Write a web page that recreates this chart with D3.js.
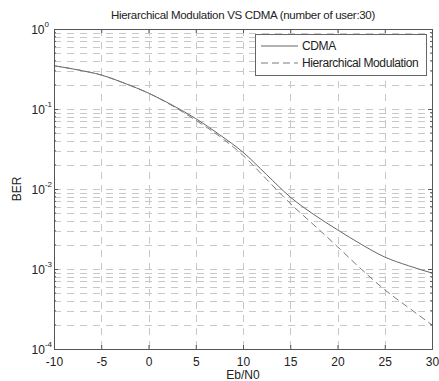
<!DOCTYPE html>
<html>
<head>
<meta charset="utf-8">
<script src="https://cdn.jsdelivr.net/npm/d3@7"></script>
<style>
    body { margin: 0; background: #fff; }
    text { font-family: "Liberation Sans", Arial, sans-serif; fill: #222; }
</style>
</head>
<body>
<div id="chart"></div>
<script>

// Eb/N0 in dB
const snr = [-10, -7.5, -5, -2.5, 0, 2.5, 5, 7.5, 10, 12.5, 15, 17.5, 20, 22.5, 25, 27.5, 30];

// BER
const berCdma = [0.347, 0.309, 0.266, 0.209, 0.158, 0.112, 0.0759, 0.0479, 0.0288, 0.0151,
    0.00794, 0.00479, 0.00309, 0.00204, 0.00141, 0.0011, 0.00089];
const berHier = [0.347, 0.309, 0.266, 0.209, 0.158, 0.110, 0.0724, 0.0457, 0.0263, 0.0132,
    0.0066, 0.00355, 0.0019, 0.001, 0.00055, 0.00033, 0.0002];

const seriesNames = ["CDMA", "Hierarchical Modulation"];
const xTicks = [-10, -5, 0, 5, 10, 15, 20, 25, 30];
const yExponents = [0, -1, -2, -3, -4];

const titleText = "Hierarchical Modulation VS CDMA (number of user:30)";
const xLabel = "Eb/N0";
const yLabel = "BER";

let margin = {top: 29, right: 7, bottom: 32, left: 54};
let width = 439 - margin.left - margin.right;
let height = 381 - margin.top - margin.bottom;

let svg = d3.select("#chart").append("svg")
    .attr("width", 439)
    .attr("height", 381);

let g = svg.append("g")
    .attr("transform", `translate(${margin.left}, ${margin.top})`);

let x = d3.scaleLinear().domain([-10, 30]).range([0, width]);
let y = d3.scaleLog().domain([1e-4, 1]).range([height, 0]);

// minor positions on the log axis (2..9 in every decade)
let minorY = [];
yExponents.slice(1).forEach(e => {
    for (let k = 2; k <= 9; k++) minorY.push(k * Math.pow(10, e));
});
let allY = minorY.concat(yExponents.map(e => Math.pow(10, e)));

// grid
let grid = g.append("g").attr("class", "grid")
    .attr("stroke", "#c8c8c8")
    .attr("stroke-width", 1)
    .attr("stroke-dasharray", "7,6");

grid.selectAll(".gx")
    .data(xTicks.slice(1, -1))
    .enter().append("line")
    .attr("x1", d => Math.round(x(d)) + 0.5)
    .attr("x2", d => Math.round(x(d)) + 0.5)
    .attr("y1", 0)
    .attr("y2", height);

grid.selectAll(".gy")
    .data(allY.filter(d => d > 1e-4 && d < 1))
    .enter().append("line")
    .attr("x1", 0)
    .attr("x2", width)
    .attr("y1", d => Math.round(y(d)) + 0.5)
    .attr("y2", d => Math.round(y(d)) + 0.5);

// curves
let line = d3.line()
    .x((d, i) => x(snr[i]))
    .y(d => y(d))
    .curve(d3.curveMonotoneX);

g.append("path")
    .datum(berCdma)
    .attr("fill", "none")
    .attr("stroke", "#666")
    .attr("stroke-width", 1)
    .attr("d", line);

g.append("path")
    .datum(berHier)
    .attr("fill", "none")
    .attr("stroke", "#7a7a7a")
    .attr("stroke-width", 1)
    .attr("stroke-dasharray", "7,4")
    .attr("d", line);

// axes box with inward ticks (bottom/top, left/right)
let axisColor = "#555";
let tickLen = 4;

g.append("g")
    .attr("transform", `translate(0, ${height})`)
    .call(d3.axisBottom(x).tickValues(xTicks).tickSize(-tickLen).tickPadding(8).tickFormat(d => String(d)))
    .call(a => a.select(".domain").attr("stroke", axisColor))
    .call(a => a.selectAll("line").attr("stroke", axisColor))
    .call(a => a.selectAll("text").attr("font-size", "12px").attr("fill", "#222"));

g.append("g")
    .call(d3.axisTop(x).tickValues(xTicks).tickSize(-tickLen).tickFormat(""))
    .call(a => a.select(".domain").attr("stroke", axisColor))
    .call(a => a.selectAll("line").attr("stroke", axisColor));

let yMajor = yExponents.map(e => Math.pow(10, e));

g.append("g")
    .call(d3.axisLeft(y).tickValues(yMajor).tickSize(-tickLen).tickFormat(""))
    .call(a => a.select(".domain").attr("stroke", axisColor))
    .call(a => a.selectAll("line").attr("stroke", axisColor));

g.append("g")
    .attr("transform", `translate(${width}, 0)`)
    .call(d3.axisRight(y).tickValues(yMajor).tickSize(-tickLen).tickFormat(""))
    .call(a => a.select(".domain").attr("stroke", axisColor))
    .call(a => a.selectAll("line").attr("stroke", axisColor));

// minor ticks on the log axis
[0, width].forEach(px => {
    g.append("g").selectAll("line")
        .data(minorY)
        .enter().append("line")
        .attr("x1", px)
        .attr("x2", px === 0 ? 2 : width - 2)
        .attr("y1", d => y(d))
        .attr("y2", d => y(d))
        .attr("stroke", axisColor);
});

// y tick labels as 10 with superscript
let yLabels = g.append("g").selectAll("text")
    .data(yExponents)
    .enter().append("text")
    .attr("x", d => (d === 0 ? -5 : -2))
    .attr("y", d => y(Math.pow(10, d)) + 5)
    .attr("text-anchor", "end")
    .attr("font-size", "12px");

yLabels.append("tspan").text("10");
yLabels.append("tspan")
    .attr("dy", -7)
    .attr("font-size", "8px")
    .text(d => String(d));

// title and axis labels
svg.append("text")
    .attr("x", margin.left + width / 2)
    .attr("y", 19)
    .attr("text-anchor", "middle")
    .attr("font-size", "11.5px")
    .attr("letter-spacing", "-0.3px")
    .text(titleText);

svg.append("text")
    .attr("x", margin.left + width / 2)
    .attr("y", 379)
    .attr("text-anchor", "middle")
    .attr("font-size", "12px")
    .text(xLabel);

svg.append("text")
    .attr("transform", `translate(21, ${margin.top + height / 2}) rotate(-90)`)
    .attr("text-anchor", "middle")
    .attr("font-size", "12px")
    .text(yLabel);

// legend
let legend = svg.append("g")
    .attr("transform", "translate(255, 34)");

legend.append("rect")
    .attr("x", 0.5)
    .attr("y", 0.5)
    .attr("width", 171)
    .attr("height", 41)
    .attr("fill", "#fff")
    .attr("stroke", "#666");

let legendStyles = [{stroke: "#666", dash: null}, {stroke: "#7a7a7a", dash: "7,4"}];

seriesNames.forEach((name, i) => {
    let ly = 12 + i * 17;
    legend.append("line")
        .attr("x1", 6)
        .attr("x2", 43)
        .attr("y1", ly)
        .attr("y2", ly)
        .attr("stroke", legendStyles[i].stroke)
        .attr("stroke-dasharray", legendStyles[i].dash);
    legend.append("text")
        .attr("x", 47)
        .attr("y", ly + 4)
        .attr("font-size", "12px")
        .attr("letter-spacing", "-0.4px")
        .text(name);
});

</script>
</body>
</html>
